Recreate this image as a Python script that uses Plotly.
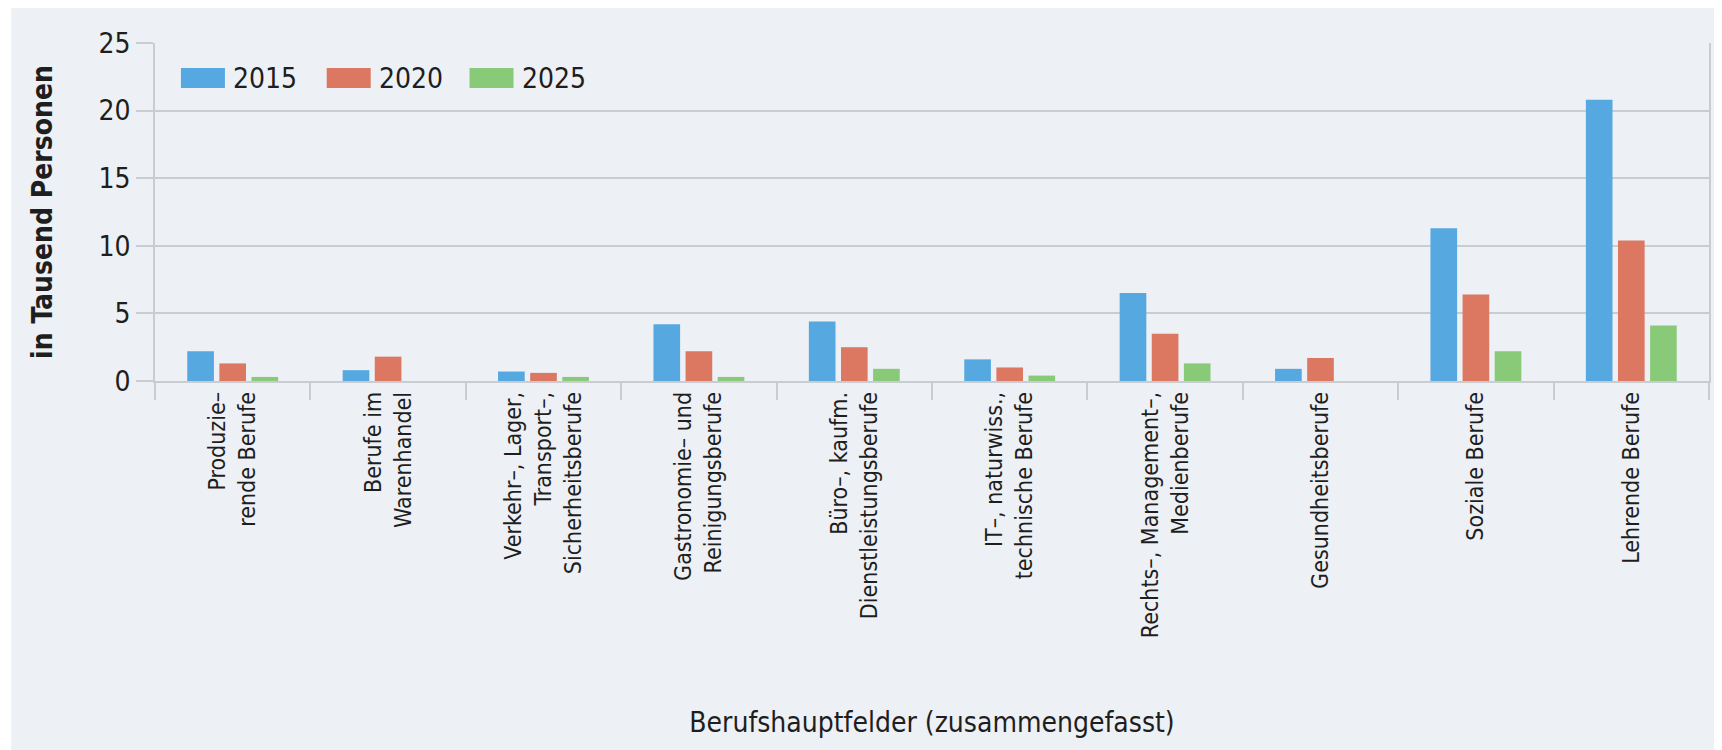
import plotly.graph_objects as go

categories = [
    "Produzie–<br>rende Berufe",
    "Berufe im<br>Warenhandel",
    "Verkehr–, Lager,<br>Transport–,<br>Sicherheitsberufe",
    "Gastronomie– und<br>Reinigungsberufe",
    "Büro–, kaufm.<br>Dienstleistungsberufe",
    "IT–, naturwiss.,<br>technische Berufe",
    "Rechts–, Management–,<br>Medienberufe",
    "Gesundheitsberufe",
    "Soziale Berufe",
    "Lehrende Berufe",
]
years = ["2015", "2020", "2025"]
v2015 = [2.2, 0.8, 0.7, 4.2, 4.4, 1.6, 6.5, 0.9, 11.3, 20.8]
v2020 = [1.3, 1.8, 0.6, 2.2, 2.5, 1.0, 3.5, 1.7, 6.4, 10.4]
v2025 = [0.3, 0.0, 0.3, 0.3, 0.9, 0.4, 1.3, 0.0, 2.2, 4.1]
y_ticks = [0, 5, 10, 15, 20, 25]

colors = ["#56a8e0", "#dc7762", "#89ca79"]
FONT = "DejaVu Sans Condensed, Roboto, sans-serif"
TXT = "#1e1e1e"
GRID = "#c9cdd1"

fig = go.Figure()
for name, vals, col in zip(years, [v2015, v2020, v2025], colors):
    fig.add_trace(go.Bar(name=name, x=categories, y=vals, marker=dict(color=col, line=dict(width=0)),
                         showlegend=False))

# panel background
fig.add_shape(type="rect", xref="paper", yref="paper", x0=-0.0925, x1=1.02, y0=-1.2, y1=1.2,
              fillcolor="#edf0f4", line=dict(width=0), layer="below")

# custom legend (large swatches)
leg_x = [0.0167, 0.1105, 0.2024]
sw_w = 0.0283
for i, (name, col) in enumerate(zip(years, colors)):
    fig.add_shape(type="rect", xref="paper", yref="paper", x0=leg_x[i], x1=leg_x[i] + sw_w,
                  y0=0.867, y1=0.926, fillcolor=col, line=dict(width=0))
    fig.add_annotation(xref="paper", yref="paper", x=leg_x[i] + sw_w + 0.004, y=0.896,
                       text=name, showarrow=False, xanchor="left", yanchor="middle",
                       font=dict(family=FONT, size=28, color=TXT))

fig.update_layout(
    width=1714, height=742,
    margin=dict(l=147, r=11, t=35, b=369),
    paper_bgcolor="white",
    plot_bgcolor="rgba(0,0,0,0)",
    barmode="group",
    bargap=0.38,
    bargroupgap=0.17,
    font=dict(family=FONT, color=TXT),
)
fig.update_yaxes(
    range=[0, 25], tickvals=y_ticks, ticktext=[str(t) for t in y_ticks],
    showgrid=True, gridcolor=GRID, gridwidth=1.5,
    showline=True, linecolor=GRID, linewidth=1.5, mirror=True,
    ticks="outside", ticklen=17, tickcolor=GRID, tickwidth=1.5,
    tickfont=dict(family=FONT, size=28, color=TXT),
    zeroline=False,
    title=dict(text="in Tausend Personen", font=dict(family=FONT, size=28, color=TXT, weight="bold"),
               standoff=38),
)
fig.update_xaxes(
    showline=True, linecolor=GRID, linewidth=1.5,
    ticks="outside", tickson="boundaries", ticklen=17, tickcolor=GRID, tickwidth=1.5,
    tickangle=-90,
    tickfont=dict(family=FONT, size=23, color=TXT),
    title=dict(text="Berufshauptfelder (zusammengefasst)", font=dict(family=FONT, size=28, color=TXT),
               standoff=75),
)

fig.write_html("out.html")
